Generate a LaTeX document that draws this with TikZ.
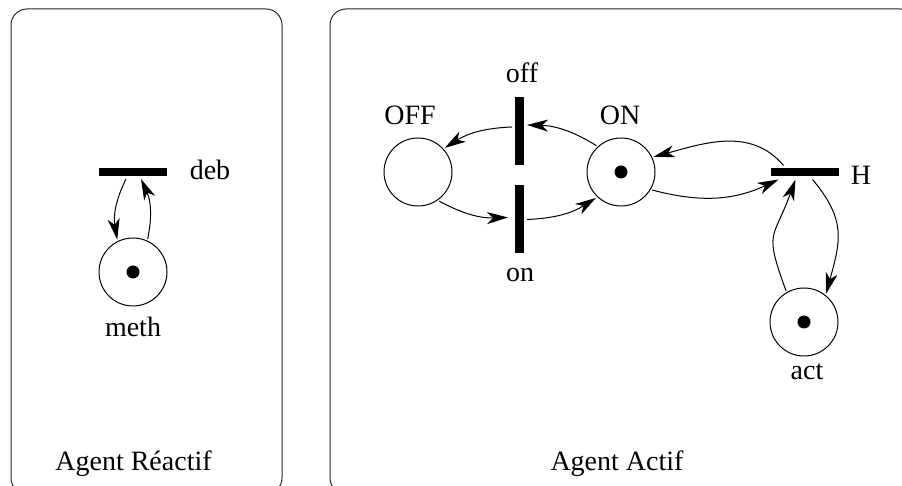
\documentclass[tikz,border=0pt]{standalone}
\usepackage{fontspec}
\setmainfont{Liberation Serif}
\usetikzlibrary{arrows.meta}

\begin{document}
\begin{tikzpicture}[x=1pt,y=1pt,font=\fontsize{28}{33}\selectfont,
  >={Stealth[length=21pt,width=12pt,inset=6pt]}]

\tikzstyle{place}=[circle,draw,line width=1pt,minimum size=68pt,inner sep=0pt,outer sep=2pt]
\tikzstyle{hbar}=[fill,inner sep=0pt,minimum width=68pt,minimum height=8pt,outer sep=3pt]
\tikzstyle{vbar}=[fill,inner sep=0pt,minimum width=9pt,minimum height=68pt,outer sep=3pt]
\tikzstyle{flow}=[line width=1pt,->]
\tikzstyle{frame}=[line width=1pt,rounded corners=16pt,draw=black!85]

\useasboundingbox (0,0) rectangle (902,486);
\clip (0,0) rectangle (902,486);

\draw[frame] (11,-8) rectangle (282,477);
\draw[frame] (330,-8) rectangle (916,477);

\node[hbar] (deb) at (133,314) {};
\node[place] (meth) at (133,214) {};
\fill (meth.center) circle (6.5);

\node[place] (OFF) at (418,314) {};
\node[vbar] (off) at (519.5,355) {};
\node[vbar] (on) at (519.5,266.5) {};
\node[place] (ON) at (621,314) {};
\fill (ON.center) circle (6.5);
\node[hbar] (H) at (804.5,313.5) {};
\node[place] (act) at (804,164) {};
\fill (act.center) circle (6.5);

\draw[flow] ([xshift=-7pt]deb.south) to[bend right=18] (meth.116);
\draw[flow] (meth.66) to[bend right=18] ([xshift=8pt]deb.south);

\draw[flow] (ON.133) to[bend right=15] ([yshift=6pt]off.east);
\draw[flow] ([yshift=4pt]off.west) to[bend right=15] (OFF.42);
\draw[flow] (OFF.-54) to[bend right=15] ([xshift=-4pt,yshift=2pt]on.west);
\draw[flow] (on.east) to[bend right=15] (ON.-134);
\draw[flow] ([xshift=-21pt]H.north) to[out=130,in=15] (ON.25);
\draw[flow] (ON.-30) to[out=-15,in=205] ([xshift=-26pt]H.south);
\draw[flow] (act.120) to[out=110,in=250,looseness=1.5] ([xshift=-9pt]H.south);
\draw[flow] ([xshift=8pt]H.south) to[out=-50,in=75,looseness=1.2] (act.52);

\node[anchor=base] (deblabel) at (210,306) {deb};
\node[anchor=base] (methlabel) at (133,149) {meth};
\node[anchor=base] (OFFlabel) at (410,361) {OFF};
\node[anchor=base] (offlabel) at (522,403) {off};
\node[anchor=base] (ONlabel) at (620,361) {ON};
\node[anchor=base] (onlabel) at (520,204) {on};
\node[anchor=base] (Hlabel) at (861,301) {H};
\node[anchor=base] (actlabel) at (807,106) {act};
\node[anchor=base] (reactif) at (133.5,15) {Agent Réactif};
\node[anchor=base] (actif) at (617,15) {Agent Actif};

\end{tikzpicture}
\end{document}
